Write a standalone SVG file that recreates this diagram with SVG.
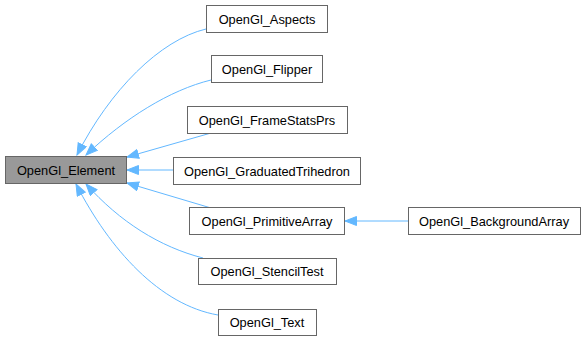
<svg xmlns="http://www.w3.org/2000/svg" width="586" height="341" viewBox="0 0 586 341">
<style>
.n rect{fill:#fff;stroke:#666;stroke-width:1}
.n.root rect{fill:#999}
.n text{font-family:"Liberation Sans",Arial,sans-serif;font-size:12.8px;fill:#000;text-anchor:middle}
.e path{fill:none;stroke:#63b8ff;stroke-width:1}
</style>
<defs>
<marker id="a" markerUnits="userSpaceOnUse" markerWidth="13" markerHeight="11" refX="12" refY="5" orient="auto">
<path d="M0.5,0.5 L12,5 L0.5,9.5 z" fill="#63b8ff" stroke="#63b8ff" stroke-width="1"/>
</marker>
</defs>
<rect width="586" height="341" fill="#fff"/>
<g class="e">
<path marker-end="url(#a)" d="M206,29 C160,40 110,90 77,155"/>
<path marker-end="url(#a)" d="M211,80 C170,90 125,118 86,155"/>
<path marker-end="url(#a)" d="M211,133 L127,157"/>
<path marker-end="url(#a)" d="M173,170 L127,170"/>
<path marker-end="url(#a)" d="M211,208 L127,183"/>
<path marker-end="url(#a)" d="M203,258 C160,247 120,222 86,184"/>
<path marker-end="url(#a)" d="M218,315 C160,305 110,250 76,184"/>
<path marker-end="url(#a)" d="M408,221 L345,221"/>
</g>
<g id="OpenGl_Element" class="n root"><rect x="5.5" y="156.5" width="121" height="27"/><text x="66" y="174.5">OpenGl_Element</text></g>
<g id="OpenGl_Aspects" class="n"><rect x="206.5" y="5.5" width="121" height="27"/><text x="267" y="23.5">OpenGl_Aspects</text></g>
<g id="OpenGl_Flipper" class="n"><rect x="211.5" y="55.5" width="111" height="27"/><text x="267" y="73.5">OpenGl_Flipper</text></g>
<g id="OpenGl_FrameStatsPrs" class="n"><rect x="187.5" y="106.5" width="160" height="27"/><text x="267" y="124.5">OpenGl_FrameStatsPrs</text></g>
<g id="OpenGl_GraduatedTrihedron" class="n"><rect x="173.5" y="157.5" width="187" height="27"/><text x="267" y="175.5">OpenGl_GraduatedTrihedron</text></g>
<g id="OpenGl_PrimitiveArray" class="n"><rect x="189.5" y="207.5" width="155" height="27"/><text x="267" y="225.5">OpenGl_PrimitiveArray</text></g>
<g id="OpenGl_StencilTest" class="n"><rect x="198.5" y="258.5" width="138" height="26"/><text x="267" y="276">OpenGl_StencilTest</text></g>
<g id="OpenGl_Text" class="n"><rect x="218.5" y="309.5" width="98" height="26"/><text x="267" y="327">OpenGl_Text</text></g>
<g id="OpenGl_BackgroundArray" class="n"><rect x="408.5" y="207.5" width="172" height="27"/><text x="494" y="225.5">OpenGl_BackgroundArray</text></g>
</svg>
